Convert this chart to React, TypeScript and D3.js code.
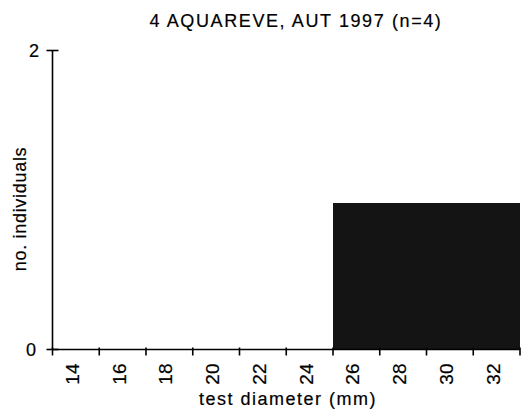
import { useRef, useEffect } from "react";
import * as d3 from "d3";

// bin centres (mm) and counts per bin
const BIN_CENTERS = [14, 16, 18, 20, 22, 24, 26, 28, 30, 32];
const COUNTS = [0, 0, 0, 0, 0, 0, 1, 1, 1, 1];
const Y_TICKS = [0, 2];
const TITLE = "4 AQUAREVE, AUT 1997 (n=4)";

const WIDTH = 531;
const HEIGHT = 414;
const LEFT = 52.5;
const RIGHT = 520;
const TOP = 50.5;
const BOTTOM = 349.5;
const FONT = "'Liberation Sans', Arial, Helvetica, sans-serif";

export default function App() {
  const svgRef = useRef<SVGSVGElement>(null);

  useEffect(() => {
    const svg = d3.select(svgRef.current);
    svg.selectAll("*").remove();

    const x = d3.scaleLinear().domain([13, 33]).range([LEFT, RIGHT]);
    const y = d3.scaleLinear().domain([0, 2]).range([BOTTOM, TOP]);

    // Bars
    svg
      .append("g")
      .selectAll("rect")
      .data(BIN_CENTERS.map((c, i) => ({ c, n: COUNTS[i] })).filter((d) => d.n > 0))
      .join("rect")
      .attr("x", (d) => x(d.c - 1))
      .attr("y", (d) => y(d.n) + 3)
      .attr("width", (d) => x(d.c + 1) - x(d.c - 1))
      .attr("height", (d) => BOTTOM - y(d.n) - 3)
      .attr("fill", "#141414")
      .attr("shape-rendering", "crispEdges");

    // X axis: ticks on bin edges, labels at bin centres
    const edges = d3.range(13, 34, 2);
    const xa = svg.append("g").attr("stroke", "#000");
    xa.append("line")
      .attr("x1", LEFT).attr("x2", RIGHT)
      .attr("y1", BOTTOM).attr("y2", BOTTOM)
      .attr("stroke-width", 1.6);
    xa.selectAll("line.tick")
      .data(edges)
      .join("line")
      .attr("class", "tick")
      .attr("x1", (d) => x(d)).attr("x2", (d) => x(d))
      .attr("y1", BOTTOM - 2).attr("y2", BOTTOM + 6)
      .attr("stroke-width", 1.6);

    const txt = (sel: any, size: number) =>
      sel.attr("font-family", FONT)
        .attr("font-size", size)
        .attr("fill", "#000")
        .attr("stroke", "#000")
        .attr("stroke-width", 0.2);

    svg
      .append("g")
      .selectAll("text")
      .data(BIN_CENTERS)
      .join("text")
      .attr("transform", (d) => `translate(${x(d) + 3},${BOTTOM + 14}) rotate(-90)`)
      .attr("text-anchor", "end")
      .call((s: any) => txt(s, 19))
      .text((d) => d);

    // Y axis
    const ya = svg.append("g").attr("stroke", "#000");
    ya.append("line")
      .attr("x1", LEFT).attr("x2", LEFT)
      .attr("y1", TOP).attr("y2", BOTTOM)
      .attr("stroke-width", 1.6);
    ya.selectAll("line.tick")
      .data(Y_TICKS)
      .join("line")
      .attr("class", "tick")
      .attr("x1", LEFT - 6).attr("x2", LEFT + 6)
      .attr("y1", (d) => y(d)).attr("y2", (d) => y(d))
      .attr("stroke-width", 1.6);

    svg
      .append("g")
      .selectAll("text")
      .data(Y_TICKS)
      .join("text")
      .attr("x", (d) => (d === 0 ? 36 : 39))
      .attr("y", (d) => y(d) + 6)
      .attr("text-anchor", "end")
      .call((s: any) => txt(s, 18))
      .text((d) => d);

    // Titles
    svg.append("text")
      .attr("x", 296).attr("y", 27)
      .attr("text-anchor", "middle")
      .attr("letter-spacing", 1.6)
      .call((s: any) => txt(s, 18))
      .text(TITLE);

    svg.append("text")
      .attr("x", 288).attr("y", 405)
      .attr("text-anchor", "middle")
      .attr("letter-spacing", 1.5)
      .call((s: any) => txt(s, 18))
      .text("test diameter (mm)");

    svg.append("text")
      .attr("transform", `translate(26,209) rotate(-90)`)
      .attr("text-anchor", "middle")
      .attr("letter-spacing", 0.7)
      .call((s: any) => txt(s, 18))
      .text("no. individuals");
  }, []);

  return (
    <svg
      ref={svgRef}
      width={WIDTH}
      height={HEIGHT}
      viewBox={`0 0 ${WIDTH} ${HEIGHT}`}
      style={{ position: "absolute", left: 0, top: 0, background: "#fff" }}
    />
  );
}
